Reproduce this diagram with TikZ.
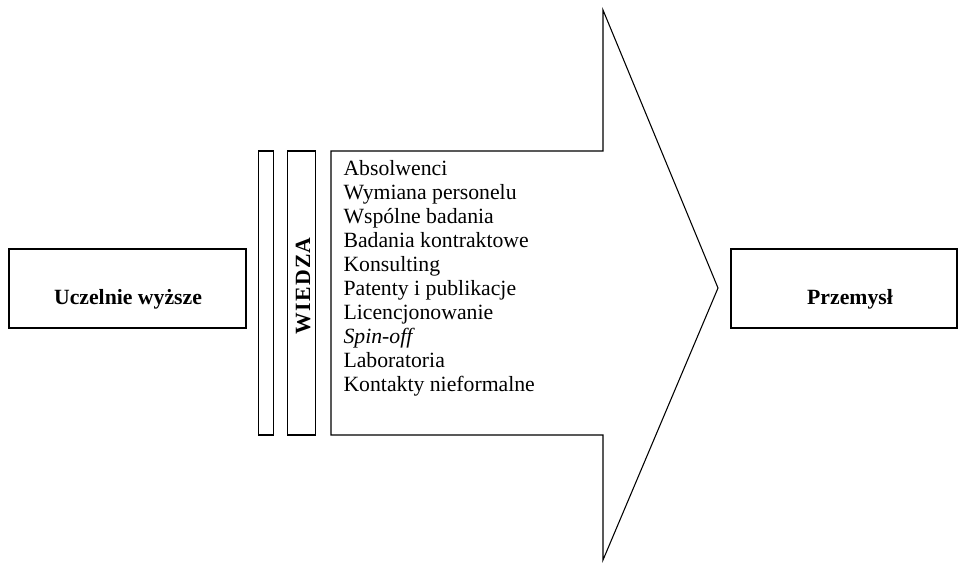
\documentclass[tikz,border=0pt]{standalone}
\usepackage{fontspec}
\setmainfont{Liberation Serif}
\begin{document}
\begin{tikzpicture}[x=0.75pt,y=-0.75pt,line width=0.8pt,
  box/.style={draw,inner sep=0pt},
  boxtext/.style={font=\fontsize{16.3}{18}\selectfont\bfseries,inner sep=0pt,anchor=base},
  listtext/.style={font=\fontsize{16.3}{18}\selectfont,inner sep=0pt,align=left,anchor=north west}]
\useasboundingbox (0,0) rectangle (959,562);

% source and target boxes
\node[box,minimum width=177.75pt,minimum height=59.25pt] (uczelnie) at (127.5,288.5) {};
\node[boxtext] (uczelnietxt) at (128,304) {Uczelnie wyższe};
\node[box,minimum width=169.5pt,minimum height=59.25pt] (przemysl) at (844,288.5) {};
\node[boxtext] (przemysltxt) at (850,304) {Przemysł};

% two narrow bars
\node[box,minimum width=11.25pt,minimum height=213pt] (bar) at (266,293) {};
\node[box,minimum width=21pt,minimum height=213pt] (wiedza) at (301.5,293) {};
\node[boxtext,font=\fontsize{16.3}{18}\selectfont\bfseries\addfontfeature{LetterSpace=6},rotate=90] (wiedzatxt) at (310,286) {WIEDZA};

% big arrow
\draw[line join=miter] (331,151) -- (603,151) -- (603,10) -- (718,288)
  -- (603,560) -- (603,435) -- (331,435) -- cycle;

% list of channels
\node[listtext] (lista) at (343,160) {Absolwenci\\ Wymiana personelu\\ Wspólne badania\\ Badania kontraktowe\\ Konsulting\\ Patenty i publikacje\\ Licencjonowanie\\ \textit{Spin-off}\\ Laboratoria\\ Kontakty nieformalne};
\end{tikzpicture}
\end{document}
